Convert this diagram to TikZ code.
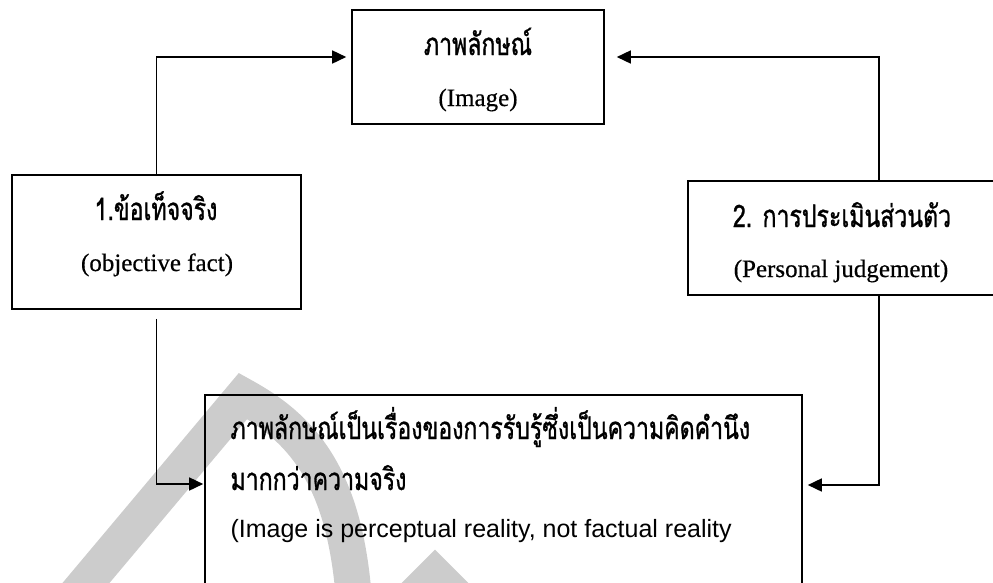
\documentclass[tikz,border=0pt]{standalone}
\usepackage{fontspec}
\setmainfont{Liberation Serif}[FakeBold=0.5]
\newfontfamily\thaifont[Script=Thai,FakeStretch=0.745,FakeBold=1]{Loma}
\newfontfamily\arialfont{Liberation Sans}
\usetikzlibrary{arrows.meta}
\tikzset{
  box/.style={draw, line width=1.6pt, inner sep=0pt},
  thai/.style={anchor=base, font=\thaifont\fontsize{31}{36}\selectfont},
  eng/.style={anchor=base, font=\fontsize{25}{30}\selectfont},
  link/.style={line width=1.6pt, -{Triangle[length=14pt,width=13pt]}},
  mark line/.style={black!20, line width=36pt, line join=miter}
}
\begin{document}
\begin{tikzpicture}[x=1pt,y=-1pt]
  \clip (0,0) rectangle (993,582);
  % watermark
  \draw[mark line] (70,602) -- (243,396) .. controls (305,430) and (345,480) .. (354,600);
  \draw[mark line] (388,622) -- (435,575) -- (482,622);
  % boxes
  \node[box, minimum width=252pt, minimum height=114pt] (img) at (478,67) {};
  \node[box, minimum width=289pt, minimum height=134pt] (fact) at (156.5,242) {};
  \node[box, minimum width=306pt, minimum height=114pt] (judge) at (841,238) {};
  \node[box, minimum width=597pt, minimum height=245pt] (percep) at (503.5,517.5) {};
  % texts
  \node[thai] (imgth) at (478,55) {ภาพลักษณ์};
  \node[eng] (imgen) at (478,106) {(Image)};
  \node[thai] (factth) at (156,220) {1.ข้อเท็จจริง};
  \node[eng] (facten) at (157,271) {(objective fact)};
  \node[thai] (judgeth) at (842,227) {2. การประเมินส่วนตัว};
  \node[eng] (judgeen) at (841,277) {(Personal judgement)};
  \node[thai, anchor=base west] (percepa) at (227,439) {ภาพลักษณ์เป็นเรื่องของการรับรู้ซึ่งเป็นความคิดคำนึง};
  \node[thai, anchor=base west] (percepb) at (227,490) {มากกว่าความจริง};
  \node[eng, anchor=base west, font=\arialfont\fontsize{25}{30}\selectfont] (percepc) at (227,537) {(Image is perceptual reality, not factual reality};
  % arrows
  \draw[link, shorten >=5pt] (fact.north) |- (img.west |- 0,57);
  \draw[link, shorten >=12pt] (judge.north -| 879,0) |- (img.east |- 0,57);
  \draw[link, shorten >=1pt] ([yshift=-9pt]fact.south) |- (percep.west |- 0,484);
  \draw[link, shorten >=5pt] (judge.south -| 879,0) |- (percep.east |- 0,485);
\end{tikzpicture}
\end{document}
